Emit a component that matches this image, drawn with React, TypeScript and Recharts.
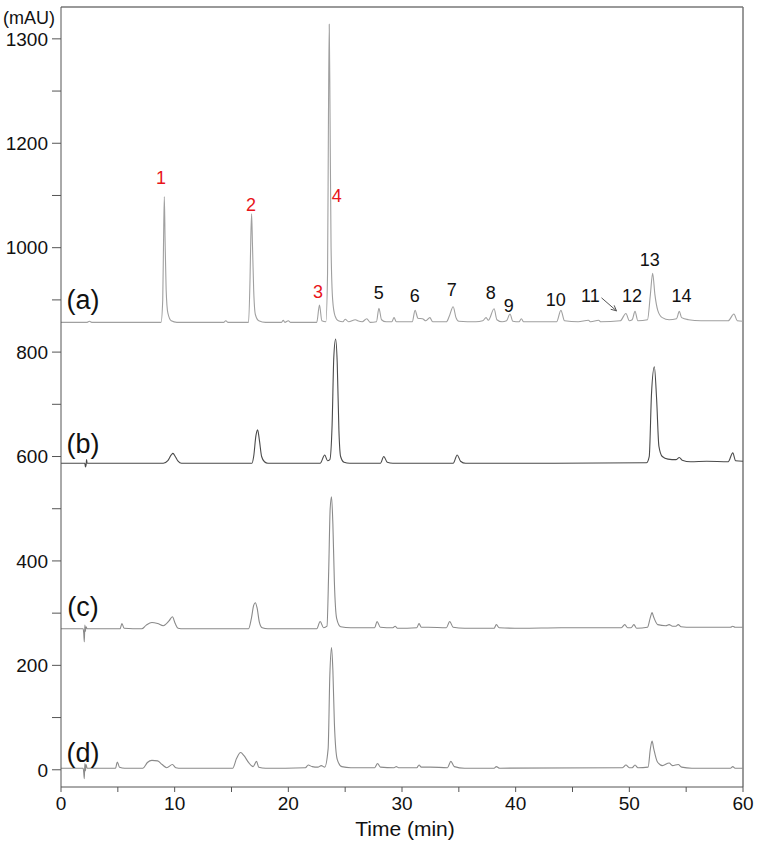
import React from 'react';
import { LineChart, Line, XAxis, YAxis, ReferenceLine, ReferenceDot } from 'recharts';

// time (min), absorbance (mAU) pairs
const traceA: [number, number][] = [
  [0, 857], [2.3, 857], [2.5, 859], [2.7, 857], [8.8, 857], [8.95, 900], [9.02, 1010], [9.09, 1098],
  [9.16, 1010], [9.25, 920], [9.4, 875], [9.7, 860], [10.2, 857], [14.3, 857], [14.5, 860], [14.7, 857],
  [16.5, 857], [16.63, 940], [16.7, 1020], [16.77, 1065], [16.84, 1010], [16.95, 920], [17.1, 872],
  [17.4, 860], [18, 857], [19.4, 857], [19.55, 861], [19.7, 857], [20.0, 860], [20.2, 857], [22.5, 857],
  [22.74, 890], [22.95, 860], [23.3, 858], [23.45, 950], [23.53, 1250], [23.6, 1428], [23.67, 1250],
  [23.76, 1000], [23.9, 900], [24.1, 870], [24.4, 860], [24.8, 858], [25.0, 863], [25.3, 858], [25.9, 862],
  [26.1, 860], [26.5, 858], [26.9, 864], [27.2, 857], [27.75, 858], [27.97, 884], [28.2, 862], [28.6, 858],
  [29.1, 858], [29.3, 866], [29.5, 858], [30.9, 858], [31.15, 880], [31.4, 865], [31.8, 864], [32.1, 860],
  [32.45, 866], [32.7, 858], [33.9, 858], [34.15, 868], [34.5, 887], [34.75, 866], [35.0, 859], [36.5, 858],
  [37.1, 860], [37.4, 866], [37.6, 861], [38.1, 883], [38.35, 862], [38.8, 858], [39.2, 860], [39.5, 873],
  [39.75, 859], [40.3, 858], [40.5, 864], [40.7, 858], [43.6, 858], [43.98, 880], [44.3, 860], [45.5, 858],
  [46.4, 861], [46.6, 858], [47.3, 861], [47.5, 858], [49.2, 860], [49.7, 874], [50.0, 860], [50.25, 862],
  [50.5, 878], [50.75, 860], [51.6, 862], [51.85, 910], [52.05, 951], [52.25, 910], [52.5, 880], [52.9, 866],
  [53.5, 862], [54.15, 864], [54.4, 878], [54.6, 866], [55.2, 862], [56.3, 860], [57.3, 860], [58.7, 860],
  [59.2, 873], [59.5, 860], [60, 859],
];

const traceB: [number, number][] = [
  [0, 587], [2.1, 587], [2.15, 580], [2.2, 583], [2.25, 594], [2.3, 587], [9.0, 587], [9.4, 592], [9.7, 603],
  [9.85, 606], [10.05, 600], [10.3, 591], [10.6, 587], [16.8, 587], [16.95, 600], [17.15, 640], [17.3, 651],
  [17.45, 632], [17.65, 600], [17.9, 590], [18.2, 587], [22.8, 587], [23.2, 603], [23.45, 592], [23.65, 594],
  [23.85, 660], [24.0, 790], [24.16, 825], [24.3, 780], [24.45, 650], [24.6, 600], [24.9, 589], [25.4, 587],
  [28.1, 587], [28.4, 600], [28.7, 589], [29.2, 587], [34.5, 587], [34.86, 603], [35.15, 591], [35.6, 587],
  [51.5, 588], [51.75, 600], [51.95, 720], [52.2, 772], [52.4, 710], [52.6, 620], [52.9, 600], [53.4, 595],
  [54.1, 594], [54.4, 598], [54.65, 593], [55.4, 590], [56.8, 591], [58.7, 590], [59.1, 607], [59.35, 592],
  [60, 591],
];

const traceC: [number, number][] = [
  [0, 270], [1.95, 270], [2.0, 262], [2.05, 245], [2.1, 277], [2.15, 265], [2.2, 274], [2.3, 270], [5.2, 270],
  [5.36, 280], [5.55, 271], [7.1, 270], [7.5, 277], [8.0, 282], [8.5, 280], [9.0, 276], [9.5, 285], [9.8, 293],
  [10.05, 280], [10.3, 271], [10.8, 270], [16.5, 270], [16.75, 290], [16.95, 315], [17.1, 320], [17.25, 310],
  [17.45, 283], [17.7, 272], [18.2, 270], [22.5, 270], [22.8, 284], [23.1, 272], [23.4, 275], [23.55, 380],
  [23.68, 500], [23.8, 523], [23.92, 470], [24.05, 360], [24.25, 290], [24.6, 274], [25.5, 272], [27.6, 272],
  [27.8, 284], [28.1, 273], [29.2, 272], [29.4, 275], [29.6, 271], [31.3, 272], [31.5, 280], [31.7, 273],
  [32.3, 273], [33.9, 272], [34.2, 284], [34.5, 273], [35.5, 271], [38.1, 271], [38.3, 278], [38.55, 272],
  [40.5, 271], [44.0, 272], [49.3, 272], [49.6, 278], [49.85, 272], [50.15, 272], [50.4, 278], [50.65, 271],
  [51.6, 273], [51.85, 292], [52.0, 301], [52.15, 292], [52.5, 278], [53.2, 276], [53.5, 278], [53.8, 275],
  [54.1, 275], [54.3, 278], [54.55, 274], [55.5, 273], [58.9, 273], [59.1, 275], [59.3, 273], [60, 273],
];

const traceD: [number, number][] = [
  [0, 3], [1.95, 3], [2.0, -5], [2.05, -17], [2.1, 12], [2.15, -2], [2.2, 10], [2.3, 3], [4.8, 3], [4.95, 15],
  [5.15, 5], [5.6, 3], [7.2, 3], [7.6, 14], [8.0, 18], [8.5, 17], [8.9, 10], [9.3, 4], [9.8, 10], [10.1, 4],
  [10.6, 3], [15.1, 3], [15.45, 22], [15.8, 33], [16.1, 27], [16.5, 14], [16.9, 6], [17.2, 16], [17.4, 5],
  [18, 3], [21.5, 4], [21.75, 9], [22.1, 6], [22.6, 5], [22.9, 8], [23.2, 5], [23.5, 40], [23.65, 180],
  [23.8, 234], [23.92, 190], [24.05, 90], [24.3, 20], [24.7, 6], [25.5, 4], [27.6, 4], [27.85, 12], [28.1, 5],
  [29.3, 4], [29.5, 6], [29.7, 4], [31.3, 4], [31.5, 9], [31.7, 5], [32.5, 5], [34.0, 4], [34.3, 16], [34.6, 6],
  [35.5, 3], [38.1, 3], [38.3, 6], [38.6, 3], [49.4, 4], [49.7, 9], [50.0, 4], [50.25, 4], [50.5, 9],
  [50.75, 4], [51.65, 5], [51.85, 40], [52.0, 55], [52.15, 40], [52.45, 16], [52.9, 8], [53.5, 13], [53.8, 8],
  [54.3, 10], [54.6, 5], [55.5, 3], [58.9, 3], [59.1, 6], [59.3, 3], [60, 3],
];

const xTicks = [0, 5, 10, 15, 20, 25, 30, 35, 40, 45, 50, 55, 60];
const yTicks = [0, 100, 200, 300, 400, 500, 600, 700, 800, 900, 1000, 1100, 1200, 1300, 1400];
const yTickLabels: Record<number, string> = {
  0: '0', 200: '200', 400: '400', 600: '600', 800: '800', 1000: '1000', 1200: '1200', 1400: '1300',
};

// peak numbers: [label, time, mAU, red?]
const peakLabels: [string, number, number, boolean][] = [
  ['1', 8.79, 1135, true], ['2', 16.71, 1082, true], ['3', 22.6, 915, true], ['4', 24.27, 1100, true],
  ['5', 27.96, 913, false], ['6', 31.13, 909, false], ['7', 34.38, 919, false], ['8', 37.81, 913, false],
  ['9', 39.4, 890, false], ['10', 43.53, 900, false], ['11', 46.58, 908, false], ['12', 50.24, 908, false],
  ['13', 51.8, 977, false], ['14', 54.58, 908, false],
];

const traceNames: [string, number][] = [['(a)', 900], ['(b)', 626], ['(c)', 313], ['(d)', 33]];

const toRows = (pts: [number, number][]) => pts.map(([t, v]) => ({ t, v }));

const FONT = '"Liberation Sans", Arial, sans-serif';

function Arrow(props: any) {
  const { x1, y1, x2, y2 } = props;
  const ang = Math.atan2(y2 - y1, x2 - x1);
  const hx1 = x2 - 6 * Math.cos(ang - 0.45);
  const hy1 = y2 - 6 * Math.sin(ang - 0.45);
  const hx2 = x2 - 6 * Math.cos(ang + 0.45);
  const hy2 = y2 - 6 * Math.sin(ang + 0.45);
  return (
    <g stroke="#555" strokeWidth={1} fill="none">
      <line x1={x1} y1={y1} x2={x2} y2={y2} />
      <polyline points={`${hx1},${hy1} ${x2},${y2} ${hx2},${hy2}`} />
    </g>
  );
}

export default function App() {
  return (
    <div style={{ width: 757, height: 845, background: '#fff' }}>
      <style>{'body{margin:0}'}</style>
      <LineChart width={757} height={845} margin={{ top: 7, right: 14, left: 0, bottom: 0 }}>
        <XAxis
          type="number"
          dataKey="t"
          domain={[0, 60]}
          ticks={xTicks}
          allowDuplicatedCategory={false}
          tickFormatter={(v) => (v % 10 === 0 ? String(v) : '')}
          tick={{ fill: '#111', fontSize: 19, fontFamily: FONT }}
          tickSize={5}
          tickMargin={5}
          height={58}
          stroke="#555"
          label={{
            content: ({ viewBox }: any) => (
              <text x={viewBox.x + viewBox.width / 2 + 3} y={viewBox.y + 49} textAnchor="middle"
                fontSize={21} fontFamily={FONT} fill="#111">Time (min)</text>
            ),
          }}
        />
        <YAxis
          type="number"
          dataKey="v"
          domain={[-33, 1461]}
          ticks={yTicks}
          tickFormatter={(v) => yTickLabels[v] ?? ''}
          tick={{ fill: '#111', fontSize: 19, fontFamily: FONT }}
          tickSize={9}
          tickMargin={4}
          width={61}
          stroke="#555"
          label={{
            content: ({ viewBox }: any) => (
              <text x={29} y={viewBox.y + 17} textAnchor="middle" fontSize={18} fontFamily={FONT} fill="#111">
                (mAU)
              </text>
            ),
          }}
        />
        <ReferenceLine y={1461} stroke="#777" strokeWidth={1.5} />
        <ReferenceLine x={60} stroke="#777" strokeWidth={1.5} />

        <Line data={toRows(traceA)} dataKey="v" type="monotone" stroke="#a0a0a0" strokeWidth={1.1} dot={false} isAnimationActive={false} />
        <Line data={toRows(traceB)} dataKey="v" type="monotone" stroke="#4a4a4a" strokeWidth={1.1} dot={false} isAnimationActive={false} />
        <Line data={toRows(traceC)} dataKey="v" type="monotone" stroke="#8a8a8a" strokeWidth={1.1} dot={false} isAnimationActive={false} />
        <Line data={toRows(traceD)} dataKey="v" type="monotone" stroke="#8a8a8a" strokeWidth={1.1} dot={false} isAnimationActive={false} />

        {peakLabels.map(([txt, t, v, red]) => (
          <ReferenceDot key={txt} x={t} y={v} r={0} fill="none" stroke="none"
            label={{ value: txt, position: 'center', fill: red ? '#e8141a' : '#111', fontSize: 18, fontFamily: FONT }} />
        ))}
        {traceNames.map(([txt, v]) => (
          <ReferenceDot key={txt} x={1.93} y={v} r={0} fill="none" stroke="none"
            label={{ value: txt, position: 'center', fill: '#111', fontSize: 27, fontFamily: FONT }} />
        ))}
        <ReferenceLine segment={[{ x: 47.55, y: 904 }, { x: 48.87, y: 879 }]} shape={<Arrow />} />
      </LineChart>
    </div>
  );
}
